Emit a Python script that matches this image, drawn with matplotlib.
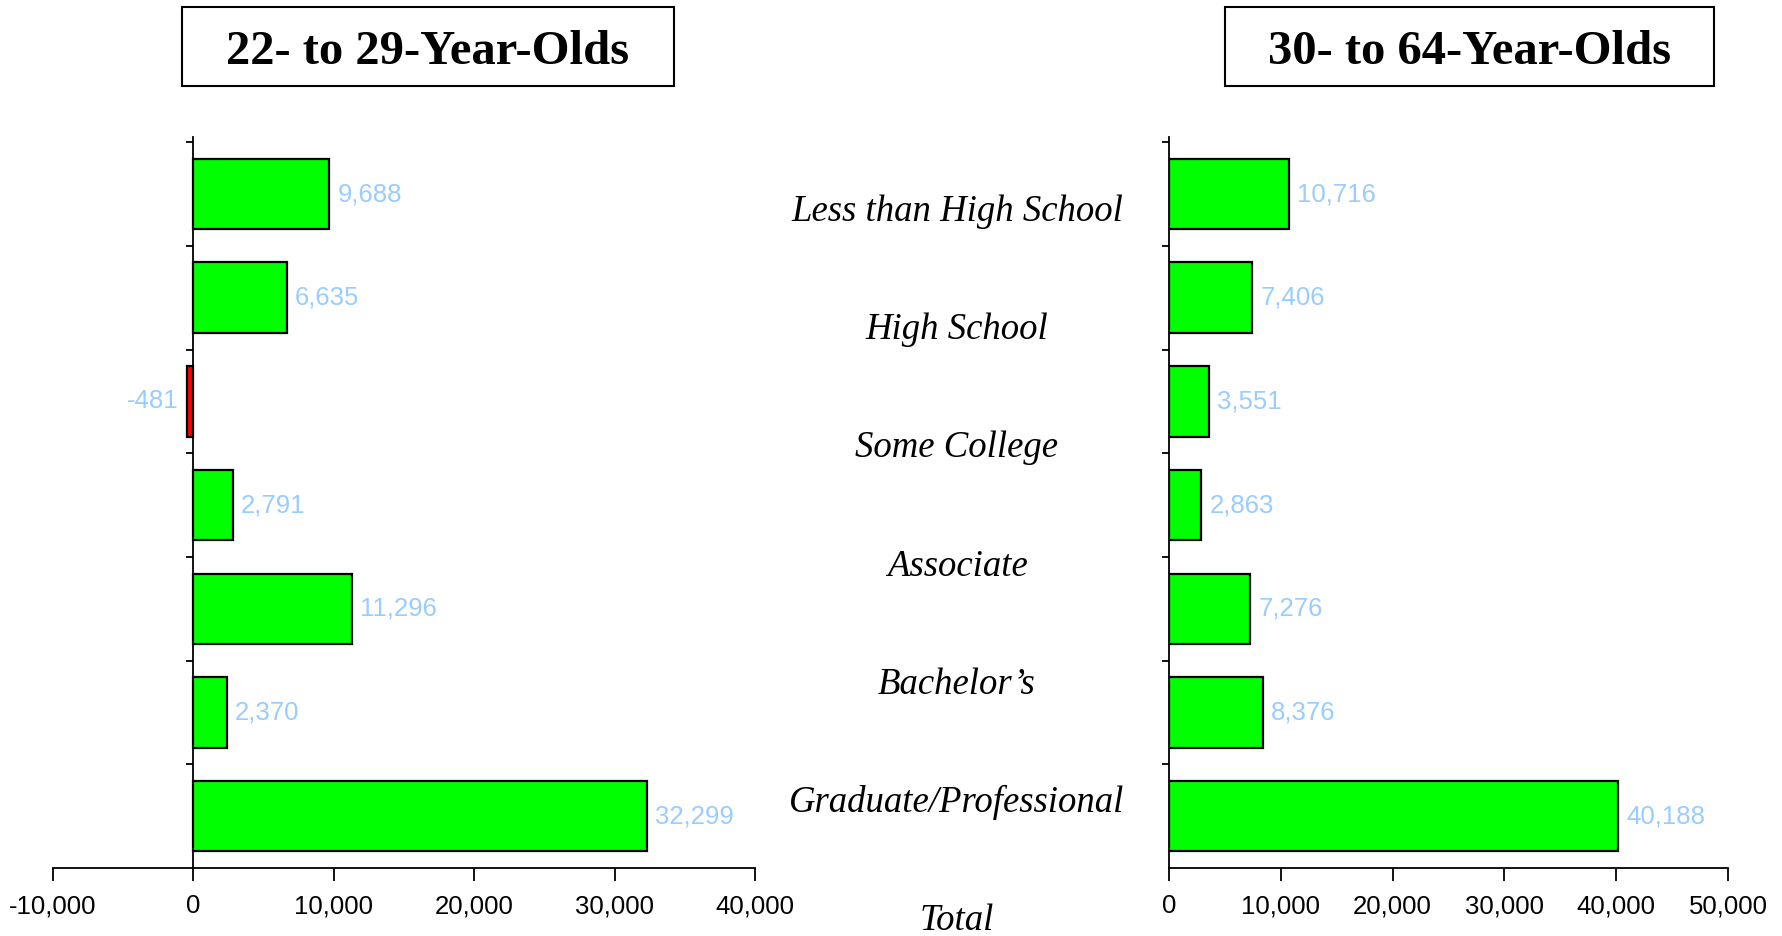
import numpy as np
import matplotlib.pyplot as plt
from matplotlib.patches import Rectangle

categories = ['Less than High School', 'High School', 'Some College', 'Associate',
              'Bachelor\u2019s', 'Graduate/Professional', 'Total']
young = [9688, 6635, -481, 2791, 11296, 2370, 32299]
older = [10716, 7406, 3551, 2863, 7276, 8376, 40188]
titles = ['22- to 29-Year-Olds', '30- to 64-Year-Olds']

W, H = 1783, 936
fig = plt.figure(figsize=(W / 100, H / 100), dpi=100)

def px(x0, y0, x1, y1):
    # pixel box (top-left origin) -> figure fraction rect
    return [x0 / W, 1 - y1 / H, (x1 - x0) / W, (y1 - y0) / H]

def panel(rect, vals, xlim, xticks):
    ax = fig.add_axes(rect)
    y = np.arange(len(vals))
    colors = ['#00FF00' if v >= 0 else '#FF0000' for v in vals]
    ax.barh(y, vals, height=0.68, color=colors, edgecolor='black', linewidth=1.6)
    ax.set_ylim(len(vals) - 0.5, -0.55)
    ax.set_xlim(*xlim)
    ax.set_xticks(xticks)
    ax.set_xticklabels(['{:,}'.format(t) for t in xticks], fontsize=18.5,
                       family='Liberation Sans')
    ax.set_yticks(np.arange(len(vals)) - 0.5)
    ax.set_yticklabels([])
    ax.spines['left'].set_position(('data', 0))
    ax.spines['top'].set_visible(False)
    ax.spines['right'].set_visible(False)
    for s in ('left', 'bottom'):
        ax.spines[s].set_linewidth(1.3)
    ax.tick_params(axis='x', length=9, width=1.3, pad=10)
    ax.tick_params(axis='y', length=5, width=1.3)
    for yi, v in zip(y, vals):
        if v >= 0:
            ax.annotate('{:,}'.format(v), (v, yi), xytext=(6, 0), textcoords='offset points',
                        ha='left', va='center', color='#99CCFF', fontsize=18.5,
                        family='Liberation Sans')
        else:
            ax.annotate('{:,}'.format(v), (v, yi), xytext=(-6, 0), textcoords='offset points',
                        ha='right', va='center', color='#99CCFF', fontsize=18.5,
                        family='Liberation Sans')
    return ax

panel(px(53, 137, 755, 868), young, (-10000, 40000), list(range(-10000, 40001, 10000)))
panel(px(1169, 137, 1728, 868), older, (0, 50000), list(range(0, 50001, 10000)))

# centre category labels (baselines)
mid = fig.add_axes([0, 0, 1, 1])
mid.set_xlim(0, W)
mid.set_ylim(H, 0)
mid.axis('off')
for i, c in enumerate(categories):
    mid.text(957, 221 + 118.2 * i, c, ha='center', va='baseline', fontsize=26.5,
             family='Liberation Serif', style='italic')

# title boxes
for (x0, x1), t in zip([(182, 674), (1225, 1714)], titles):
    mid.add_patch(Rectangle((x0, 7), x1 - x0, 79, fill=False, edgecolor='black', linewidth=1.5))
    mid.text((x0 + x1) / 2, 52, t, ha='center', va='center', fontsize=35,
             family='Liberation Serif', weight='bold')

fig.savefig('out.png', dpi=100)
